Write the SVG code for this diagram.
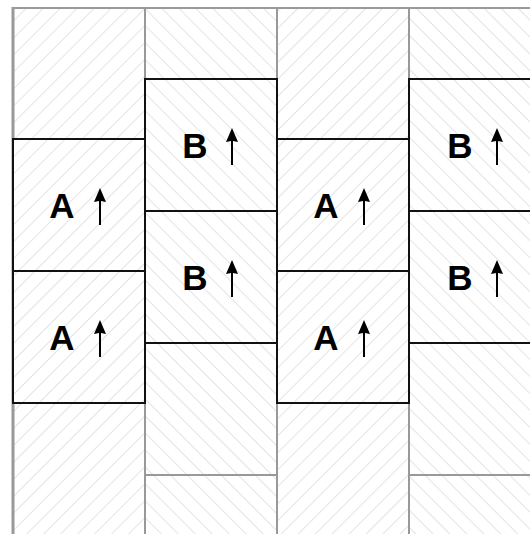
<svg xmlns="http://www.w3.org/2000/svg" width="530" height="534" viewBox="0 0 530 534">
<style>
.grid{stroke:#999;stroke-width:2;fill:none}
.box{stroke:#111;stroke-width:2}
.boxA{fill:url(#hatchA)}
.boxB{fill:url(#hatchB)}
.lbl{font-family:"Liberation Sans",Arial,sans-serif;font-weight:bold;font-size:35px;fill:#000;text-anchor:middle}
.arr{fill:#000}
</style>
<defs>
<pattern id="hatchA" patternUnits="userSpaceOnUse" width="12" height="12" patternTransform="rotate(45)">
<rect width="12" height="12" fill="#fff"/>
<line x1="0" y1="0" x2="0" y2="12" stroke="#dcdcdc" stroke-width="1.5"/>
</pattern>
<pattern id="hatchB" patternUnits="userSpaceOnUse" width="12" height="12" patternTransform="rotate(-45)">
<rect width="12" height="12" fill="#fff"/>
<line x1="0" y1="0" x2="0" y2="12" stroke="#dcdcdc" stroke-width="1.5"/>
</pattern>
<path id="up" class="arr" d="M0,-17 L6,-3 L1,-4 L1,20 L-1,20 L-1,-4 L-6,-3 Z"/>
</defs>
<rect width="530" height="534" fill="#fff"/>
<g id="background">
<rect x="13" y="8" width="132" height="526" class="boxA"/>
<rect x="145" y="8" width="132" height="526" class="boxB"/>
<rect x="277" y="8" width="132" height="526" class="boxA"/>
<rect x="409" y="8" width="132" height="526" class="boxB"/>
</g>
<g id="connectors">
<line class="grid" x1="13" y1="8" x2="530" y2="8"/>
<line class="grid" x1="13" y1="7" x2="13" y2="534" style="stroke-width:3"/>
<line class="grid" x1="145" y1="8" x2="145" y2="534"/>
<line class="grid" x1="277" y1="8" x2="277" y2="534"/>
<line class="grid" x1="409" y1="8" x2="409" y2="534"/>
<line class="grid" x1="145" y1="475" x2="277" y2="475"/>
<line class="grid" x1="409" y1="475" x2="530" y2="475"/>
</g>
<g id="A1"><rect class="box boxA" x="13" y="139" width="132" height="132"/><text class="lbl" x="62" y="218">A</text><use href="#up" x="100" y="205"/></g>
<g id="A2"><rect class="box boxA" x="13" y="271" width="132" height="132"/><text class="lbl" x="62" y="350">A</text><use href="#up" x="100" y="337"/></g>
<g id="B1"><rect class="box boxB" x="145" y="79" width="132" height="132"/><text class="lbl" x="195" y="158">B</text><use href="#up" x="232" y="145"/></g>
<g id="B2"><rect class="box boxB" x="145" y="211" width="132" height="132"/><text class="lbl" x="195" y="290">B</text><use href="#up" x="232" y="277"/></g>
<g id="A3"><rect class="box boxA" x="277" y="139" width="132" height="132"/><text class="lbl" x="326" y="218">A</text><use href="#up" x="364" y="205"/></g>
<g id="A4"><rect class="box boxA" x="277" y="271" width="132" height="132"/><text class="lbl" x="326" y="350">A</text><use href="#up" x="364" y="337"/></g>
<g id="B3"><rect class="box boxB" x="409" y="79" width="132" height="132"/><text class="lbl" x="460" y="158">B</text><use href="#up" x="497" y="145"/></g>
<g id="B4"><rect class="box boxB" x="409" y="211" width="132" height="132"/><text class="lbl" x="460" y="290">B</text><use href="#up" x="497" y="277"/></g>
</svg>
